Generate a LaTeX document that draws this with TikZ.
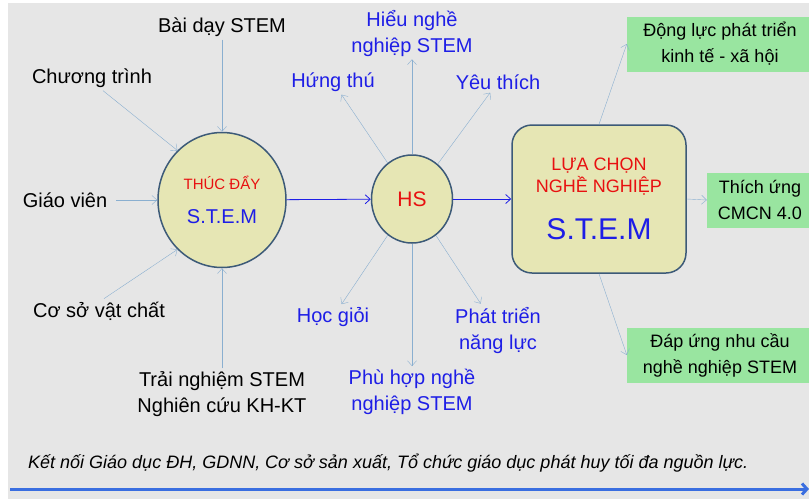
\documentclass[tikz,border=0pt]{standalone}
\usepackage{fontspec}
\setmainfont{Liberation Sans}
\usetikzlibrary{shapes.geometric,arrows.meta}
\usepackage{xcolor}
\definecolor{bg1}{HTML}{E6E6E6}
\definecolor{y1}{HTML}{E6E6B4}
\definecolor{b1}{HTML}{3C5A78}
\definecolor{g1}{HTML}{99E5A0}
\definecolor{l1}{HTML}{8AAFD0}
\definecolor{t1}{HTML}{1E1EE6}
\definecolor{r1}{HTML}{E81010}
\definecolor{a1}{HTML}{3A6EE0}

\begin{document}
\begin{tikzpicture}[x=1pt,y=-1pt,
	lbl/.style={font=\fontsize{20}{26}\selectfont,align=center,inner sep=3pt},
	bluelbl/.style={lbl,text=t1},
	greenbox/.style={fill=g1,font=\fontsize{18}{26}\selectfont,align=center,minimum height=55pt,inner sep=0pt},
	inarrow/.style={-{Straight Barb[length=5pt,width=9pt]},l1,thin},
	mainarrow/.style={-{Straight Barb[length=5pt,width=9pt]},t1,line width=0.8pt}]
	\useasboundingbox (0,0) rectangle (809,499);
	\fill [bg1] (8,3) rectangle (809,499);
	% centre
	\node [ellipse,draw=b1,line width=1.5pt,fill=y1,minimum width=128pt,minimum height=135pt,inner sep=0pt,align=center,font=\fontsize{15}{18}\selectfont] (thuc) at (222,200)
		{\textcolor{r1}{THÚC ĐẨY}\\[16pt]\fontsize{20}{20}\selectfont\textcolor{t1}{S.T.E.M}};
	\node [ellipse,draw=b1,line width=1.5pt,fill=y1,minimum width=81pt,minimum height=88pt,inner sep=0pt,text=r1,font=\fontsize{21}{24}\selectfont] (hs) at (412,199) {HS};
	\node [draw=b1,line width=1.5pt,fill=y1,rounded corners=20pt,minimum width=174pt,minimum height=148pt,align=center,font=\fontsize{18}{22}\selectfont] (box) at (599,199)
		{\textcolor{r1}{LỰA CHỌN}\\\fontsize{18}{22}\selectfont\textcolor{r1}{NGHỀ NGHIỆP}\\[22pt]\fontsize{30}{32}\selectfont\textcolor{t1}{S.T.E.M}};
	% inputs
	\node [lbl] (bai) at (222,27) {Bài dạy STEM};
	\node [lbl] (chuong) at (92,78) {Chương trình};
	\node [lbl] (giaovien) at (65,200) {Giáo viên};
	\node [lbl] (coso) at (99,311) {Cơ sở vật chất};
	\node [lbl] (trainghiem) at (222,394) {Trải nghiệm STEM\\Nghiên cứu KH-KT};
	\draw [inarrow] (bai.south) -- (thuc.north);
	\draw [inarrow] ([xshift=11pt]chuong.south) -- (thuc.132);
	\draw [inarrow,shorten <=6pt] (giaovien.east) -- (thuc.west);
	\draw [inarrow] ([xshift=5pt]coso.north) -- (thuc.228);
	\draw [inarrow] (trainghiem.north) -- (thuc.south);
	% outputs of HS
	\node [bluelbl] (hieu) at (412,33) {Hiểu nghề\\nghiệp STEM};
	\node [bluelbl] (hung) at (333,82) {Hứng thú};
	\node [bluelbl] (yeu) at (498,82) {Yêu thích};
	\node [bluelbl] (hoc) at (333,317) {Học giỏi};
	\node [bluelbl] (phattrien) at (498,330) {Phát triển\\năng lực};
	\node [bluelbl] (phuhop) at (412,392) {Phù hợp nghề\\nghiệp STEM};
	\draw [inarrow] (hs) -- (hieu);
	\draw [inarrow] (hs) -- (hung);
	\draw [inarrow] (hs) -- (yeu);
	\draw [inarrow] (hs) -- (hoc);
	\draw [inarrow] (hs) -- (phattrien);
	\draw [inarrow] (hs) -- (phuhop);
	\draw [mainarrow] (thuc) -- (hs);
	\draw [mainarrow] (hs) -- (box);
	% results
	\node [greenbox,minimum width=186pt] (dongluc) at (720,44) {Động lực phát triển\\kinh tế - xã hội};
	\node [greenbox,minimum width=106pt] (thichung) at (760,200) {Thích ứng\\CMCN 4.0};
	\node [greenbox,minimum width=186pt] (dapung) at (720,355) {Đáp ứng nhu cầu\\nghề nghiệp STEM};
	\draw [inarrow] (box.north) -- (dongluc.west);
	\draw [inarrow] (box.east) -- (thichung.west);
	\draw [inarrow] (box.south) -- (dapung.west);
	% bottom line
	\node [font=\fontsize{18}{20}\selectfont\itshape,anchor=west,inner sep=0pt] (ketnoi) at (28,463) {Kết nối Giáo dục ĐH, GDNN, Cơ sở sản xuất, Tổ chức giáo dục phát huy tối đa nguồn lực.};
	\coordinate (lstart) at (10,489);
	\coordinate (lend) at (809,489);
	\draw [-{Straight Barb[length=5pt,width=11pt]},a1,line width=3pt] (lstart) -- (lend);
\end{tikzpicture}
\end{document}
